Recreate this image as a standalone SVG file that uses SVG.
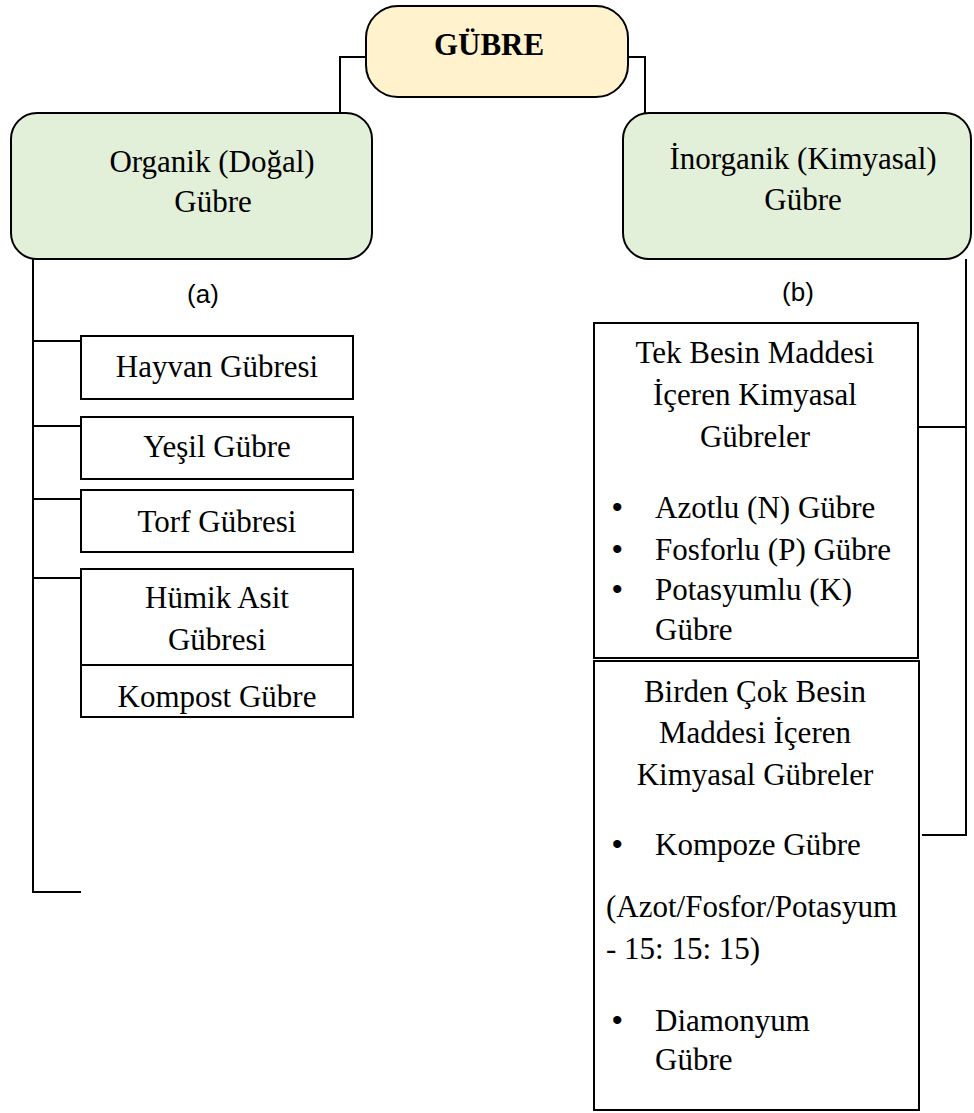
<svg xmlns="http://www.w3.org/2000/svg" width="974" height="1113" viewBox="0 0 974 1113">
<style>
.t{font-family:"Liberation Serif","Times New Roman",serif;font-size:31px;fill:#000}
.c{text-anchor:middle}
.b{font-family:"Liberation Sans",Arial,sans-serif;font-size:30px;fill:#000}
.s{font-family:"Liberation Sans",Arial,sans-serif;font-size:26px;fill:#000;text-anchor:middle}
.box{fill:#fff;stroke:#000;stroke-width:2}
.ln{fill:none;stroke:#000;stroke-width:2}
</style>
<rect width="974" height="1113" fill="#fff"/>
<g id="connectors">
<path class="ln" d="M366,57 H340 V113"/>
<path class="ln" d="M628,57 H645 V113"/>
<path class="ln" d="M33,259 V892 H81"/>
<path class="ln" d="M33,341 H81 M33,426 H81 M33,499 H81 M33,578 H81"/>
<path class="ln" d="M966,259 V835 H922 M918,427 H966"/>
</g>
<g id="gubre">
<rect x="366" y="6" width="262" height="91" rx="32" fill="#fff2cc" stroke="#000" stroke-width="2"/>
<text class="t c" x="489" y="55" font-weight="bold" font-size="32">GÜBRE</text>
</g>
<g id="organik">
<rect x="11" y="113" width="361" height="146" rx="26" fill="#e2efd9" stroke="#000" stroke-width="2"/>
<text class="t c" x="212" y="172">Organik (Doğal)</text>
<text class="t c" x="213" y="212">Gübre</text>
</g>
<g id="inorganik">
<rect x="623" y="113" width="348" height="146" rx="26" fill="#e2efd9" stroke="#000" stroke-width="2"/>
<text class="t c" x="803" y="169">İnorganik (Kimyasal)</text>
<text class="t c" x="803" y="210">Gübre</text>
</g>
<text class="s" x="203" y="303">(a)</text>
<text class="s" x="798" y="301">(b)</text>
<g id="hayvan">
<rect class="box" x="81" y="336" width="272" height="63"/>
<text class="t c" x="217" y="377">Hayvan Gübresi</text>
</g>
<g id="yesil">
<rect class="box" x="81" y="417" width="272" height="62"/>
<text class="t c" x="217" y="457">Yeşil Gübre</text>
</g>
<g id="torf">
<rect class="box" x="81" y="490" width="272" height="62"/>
<text class="t c" x="217" y="532">Torf Gübresi</text>
</g>
<g id="humik">
<rect class="box" x="81" y="569" width="272" height="96"/>
<text class="t c" x="217" y="608">Hümik Asit</text>
<text class="t c" x="217" y="650">Gübresi</text>
</g>
<g id="kompost">
<rect class="box" x="81" y="665" width="272" height="52"/>
<text class="t c" x="217" y="707">Kompost Gübre</text>
</g>
<g id="tek">
<rect class="box" x="594" y="323" width="324" height="335"/>
<text class="t c" x="755" y="363">Tek Besin Maddesi</text>
<text class="t c" x="755" y="405">İçeren Kimyasal</text>
<text class="t c" x="755" y="447">Gübreler</text>
<text class="b" x="612" y="517">•</text>
<text class="t" x="655" y="518">Azotlu (N) Gübre</text>
<text class="b" x="612" y="559">•</text>
<text class="t" x="655" y="560">Fosforlu (P) Gübre</text>
<text class="b" x="612" y="599">•</text>
<text class="t" x="655" y="600">Potasyumlu (K)</text>
<text class="t" x="655" y="640">Gübre</text>
</g>
<g id="birden">
<rect class="box" x="594" y="661" width="325" height="449"/>
<text class="t c" x="755" y="702">Birden Çok Besin</text>
<text class="t c" x="755" y="743">Maddesi İçeren</text>
<text class="t c" x="755" y="785">Kimyasal Gübreler</text>
<text class="b" x="612" y="854">•</text>
<text class="t" x="655" y="855">Kompoze Gübre</text>
<text class="t" x="606" y="917">(Azot/Fosfor/Potasyum</text>
<text class="t" x="606" y="959">- 15: 15: 15)</text>
<text class="b" x="612" y="1030">•</text>
<text class="t" x="655" y="1031">Diamonyum</text>
<text class="t" x="655" y="1070">Gübre</text>
</g>
</svg>
